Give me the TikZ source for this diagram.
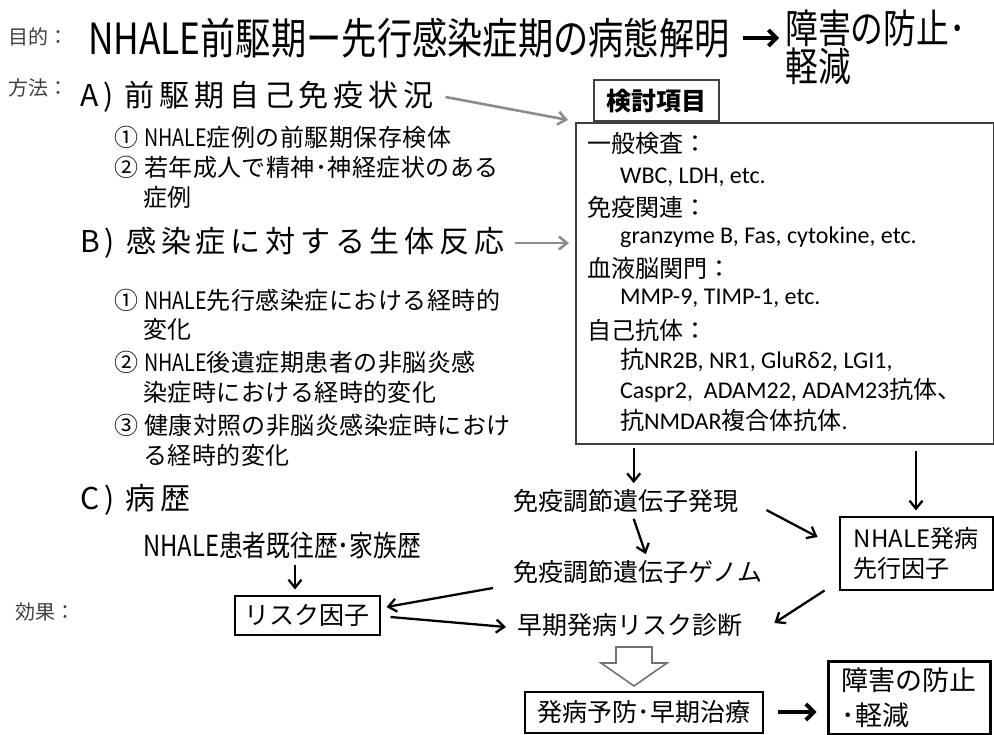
\documentclass[tikz,border=0pt]{standalone}
\usepackage{fontspec}
\setmainfont{Noto Sans CJK JP}
\newfontfamily\jp{Noto Sans CJK JP}
\newfontfamily\jpn[FakeStretch=0.82]{Noto Sans CJK JP}
\newfontfamily\jpw[LetterSpace=16]{Noto Sans CJK JP}
\newfontfamily\jps[LetterSpace=2]{Noto Sans CJK JP}
\newfontfamily\calfont{Carlito}
\usetikzlibrary{arrows.meta}
\begin{document}
\begin{tikzpicture}[x=1pt,y=-1pt,
  txt/.style={inner sep=0pt, anchor=west},
  lbl/.style={txt, font=\jp\fontsize{20}{20}\selectfont, text=black!75},
  head/.style={txt, font=\jpw\fontsize{30}{30}\selectfont},
  item/.style={txt, font=\jps\fontsize{24}{24}\selectfont},
  flow/.style={txt, font=\jp\fontsize{25}{25}\selectfont},
  bj/.style={txt, font=\jp\fontsize{24}{24}\selectfont},
  bl/.style={txt, font=\calfont\fontsize{24}{24}\selectfont},
  box/.style={draw, line width=2pt, inner sep=0pt, font=\jp\fontsize{25}{25}\selectfont},
  arr/.style={-{Straight Barb[length=8pt,width=13pt]}, line width=2.3pt},
  garr/.style={-{Straight Barb[length=8pt,width=13pt]}, line width=2.6pt, draw=black!45},
  barr/.style={-{Straight Barb[length=8pt,width=16pt]}, line width=3.8pt}
]
\useasboundingbox (0,0) rectangle (994,735);
\fill[white] (0,0) rectangle (994,735);

% top line
\node[lbl] (mokuteki) at (8,37) {目的：};
\node[txt, font=\jpn\fontsize{43}{43}\selectfont] (title) at (88,38) {NHALE前駆期ー先行感染症期の病態解明};
\node[txt, font=\jpn\fontsize{40}{35}\selectfont, align=left] (goal1) at (785,47) {障害の防止･\\軽減};
\draw[barr] ([xshift=13pt]title.east) -- ([xshift=-6pt]title.east -| goal1.west);

% method
\node[lbl] (houhou) at (8,88) {方法：};
\node[head] (A) at (80,97) {A) 前駆期自己免疫状況};
\node[item] (a1) at (114,137) {① {\jpn NHALE}症例の前駆期保存検体};
\node[item] (a2) at (114,167) {② 若年成人で精神･神経症状のある};
\node[item] (a2b) at (143,197) {症例};

\node[head] (B) at (80,243) {B) 感染症に対する生体反応};
\node[item] (b1) at (114,300) {① {\jpn NHALE}先行感染症における経時的};
\node[item] (b1b) at (143,329) {変化};
\node[item] (b2) at (114,362) {② {\jpn NHALE}後遺症期患者の非脳炎感};
\node[item] (b2b) at (143,392) {染症時における経時的変化};
\node[item] (b3) at (114,425) {③ 健康対照の非脳炎感染症時におけ};
\node[item] (b3b) at (143,455) {る経時的変化};

\node[head] (C) at (80,500) {C) 病歴};
\node[txt, font=\jpn\fontsize{29}{29}\selectfont] (hist) at (143,545) {NHALE患者既往歴･家族歴};

% items box
\node[draw=black!75, line width=1.8pt, minimum width=418pt, minimum height=321pt, anchor=north west, inner sep=0pt] (items) at (575,122) {};
\node[draw=black!75, line width=1.8pt, fill=white, minimum width=125pt, minimum height=41pt, anchor=south west, inner sep=0pt, font=\jp\bfseries\fontsize{25}{25}\selectfont] (kentou) at (593,122) {検討項目};
\node[bj] (i1) at (587,143) {一般検査：};
\node[bl] (i2) at (620,177) {WBC, LDH, etc.};
\node[bj] (i3) at (587,207) {免疫関連：};
\node[bl] (i4) at (620,237) {granzyme B, Fas, cytokine, etc.};
\node[bj] (i5) at (587,268) {血液脳関門：};
\node[bl] (i6) at (620,298) {MMP-9, TIMP-1, etc.};
\node[bj] (i7) at (587,330) {自己抗体：};
\node[bl] (i8) at (620,360) {{\jp 抗}NR2B, NR1, GluRδ2, LGI1,};
\node[bl] (i9) at (620,390) {Caspr2,\ \ ADAM22, ADAM23{\jp 抗体、}};
\node[bl] (i10) at (620,420) {{\jp 抗}NMDAR{\jp 複合体抗体}.};

\draw[garr] ([xshift=12pt]A.east) -- ([xshift=-7pt,yshift=2pt]items.north west);
\draw[garr, shorten >=6pt] ([xshift=10pt]B.east) -- (B.east -| items.west);

% flow
\node[flow] (g1) at (513,501) {免疫調節遺伝子発現};
\node[flow] (g2) at (513,572) {免疫調節遺伝子ゲノム};
\node[flow] (diag) at (517,625) {早期発病リスク診断};
\node[lbl] (kouka) at (15,612) {効果：};
\node[box, minimum width=145pt, minimum height=39pt] (risk) at (307,615) {リスク因子};
\node[box, minimum width=153pt, minimum height=73pt, align=left, font=\jp\fontsize{24}{30}\selectfont] (nf) at (916,553) {NHALE発病\\先行因子};
\node[box, minimum width=238pt, minimum height=41pt] (prev) at (644,712) {発病予防･早期治療};
\node[box, line width=3pt, minimum width=162pt, minimum height=73pt, align=left, font=\jp\fontsize{27}{35}\selectfont] (goal2) at (909,698) {障害の防止\\･軽減};

\draw[arr] ([xshift=8pt]g1.north |- items.south) ++(0,3) -- ([xshift=8pt,yshift=6pt]g1.north);
\draw[arr] ([xshift=8pt,yshift=-6pt]g1.south) -- ([xshift=8pt,yshift=6pt]g2.north);
\draw[arr] ([yshift=-6pt]nf.north |- items.south) -- ([yshift=5pt]nf.north);
\draw[arr] ([xshift=28pt,yshift=-9pt]g1.east) -- ([xshift=-21pt,yshift=16pt]nf.west);
\draw[arr] ([xshift=-20pt,yshift=-16pt]g2.west) -- ([xshift=6pt,yshift=8pt]risk.east);
\draw[arr] ([xshift=10pt,yshift=-2pt]risk.east) -- ([xshift=-11pt,yshift=-2pt]diag.west);
\draw[arr] ([xshift=-12pt,yshift=-6pt]risk.north |- hist.south) -- ([xshift=-12pt,yshift=5pt]risk.north);
\draw[arr] ([xshift=-14pt]nf.south west) -- ([xshift=32pt,yshift=2pt]diag.east);
\draw[barr] ([xshift=14pt]prev.east) -- ([xshift=-10pt]prev.east -| goal2.west);

% hollow arrow
\draw[black!55, line width=1.6pt, fill=white, line join=miter]
  (616,647) -- (652,647) -- (652,663) -- (667,663) -- (634,686) -- (601,663) -- (616,663) -- cycle;
\end{tikzpicture}
\end{document}
